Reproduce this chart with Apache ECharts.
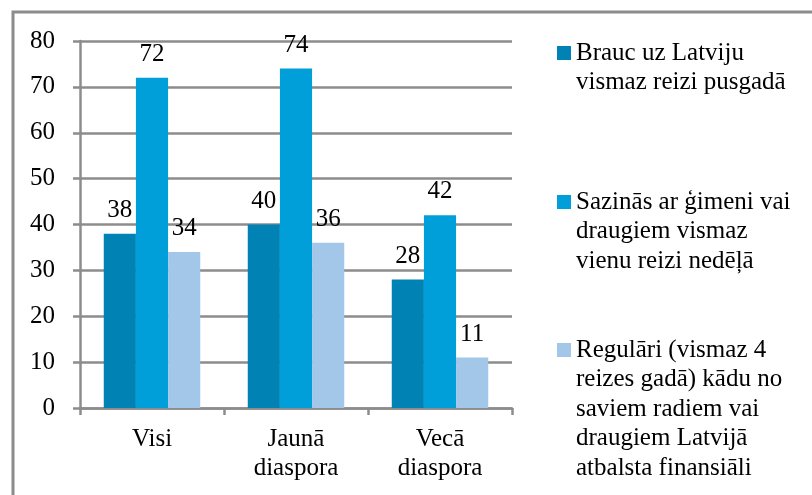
<!DOCTYPE html>
<html>
<head>
<meta charset="utf-8">
<script src="https://cdn.jsdelivr.net/npm/echarts@6/dist/echarts.min.js"></script>
<style>
    html, body { margin: 0; padding: 0; background: #fff; }
    #chart { width: 812px; height: 495px; }
</style>
</head>
<body>
<div id="chart"></div>
<script>

// Data
// ------------------------------

var categories = ['Visi', 'Jaunā\ndiaspora', 'Vecā\ndiaspora'];

var seriesNames = [
    'Brauc uz Latviju\nvismaz reizi pusgadā',
    'Sazinās ar ģimeni vai\ndraugiem vismaz\nvienu reizi nedēļā',
    'Regulāri (vismaz 4\nreizes gadā) kādu no\nsaviem radiem vai\ndraugiem Latvijā\natbalsta finansiāli'
];

var braucValues = [38, 40, 28];
var sazinasValues = [72, 74, 42];
var atbalstaValues = [34, 36, 11];

var yTicks = [0, 10, 20, 30, 40, 50, 60, 70, 80];

var colors = ['#0082b4', '#009fda', '#a3c7e8'];


// Chart
// ------------------------------

var chartElement = document.getElementById('chart');
var chart = echarts.init(chartElement);

var fontFamily = '"Liberation Serif", "Times New Roman", serif';
var fontSize = 25;
var lineH = 29.5;

// One legend per series; blank lines in front keep the icon on the first text line
var legendTops = [53, 202, 350];
var legends = seriesNames.map(function(name, i) {
    var lines = name.split('\n').length;
    return {
        data: [name],
        orient: 'vertical',
        left: 557,
        top: legendTops[i] - lineH * lines + lineH / 2,
        padding: 0,
        itemWidth: 14,
        itemHeight: 14,
        itemGap: 0,
        icon: 'rect',
        selectedMode: false,
        formatter: function(n) {
            return new Array(lines).join('\n') + n;
        },
        textStyle: {
            fontFamily: fontFamily,
            fontSize: fontSize,
            color: '#000',
            lineHeight: lineH
        }
    };
});

function barSeries(idx, values) {
    return {
        name: seriesNames[idx],
        type: 'bar',
        data: values,
        barGap: 0,
        barCategoryGap: '33%',
        itemStyle: { color: colors[idx] },
        label: {
            show: true,
            position: 'top',
            distance: 11,
            fontFamily: fontFamily,
            fontSize: fontSize,
            color: '#000'
        }
    };
}

chart.setOption({
    animation: false,
    textStyle: { fontFamily: fontFamily },

    // Outer frame (cropped at right and bottom)
    graphic: [{
        type: 'rect',
        shape: { x: 13, y: 12, width: 820, height: 500 },
        style: { fill: 'none', stroke: '#8c8c8c', lineWidth: 3 },
        silent: true
    }],

    grid: {
        left: 80,
        top: 41,
        width: 432,
        height: 367
    },

    legend: legends,

    xAxis: {
        type: 'category',
        data: categories,
        axisLine: { lineStyle: { color: '#8c8c8c', width: 2.5 } },
        axisTick: { show: true, length: 7, lineStyle: { color: '#8c8c8c', width: 2.5 } },
        axisLabel: {
            fontFamily: fontFamily,
            fontSize: fontSize,
            color: '#000',
            lineHeight: 29,
            margin: 17
        }
    },

    yAxis: {
        type: 'value',
        min: yTicks[0],
        max: yTicks[yTicks.length - 1],
        interval: 10,
        axisLine: { show: true, lineStyle: { color: '#8c8c8c', width: 2.5 } },
        axisTick: { show: true, length: 7, lineStyle: { color: '#8c8c8c', width: 2.5 } },
        splitLine: { lineStyle: { color: '#8c8c8c', width: 2.5 } },
        axisLabel: {
            fontFamily: fontFamily,
            fontSize: fontSize,
            color: '#000',
            margin: 25
        }
    },

    series: [
        barSeries(0, braucValues),
        barSeries(1, sazinasValues),
        barSeries(2, atbalstaValues)
    ]
});

</script>
</body>
</html>
